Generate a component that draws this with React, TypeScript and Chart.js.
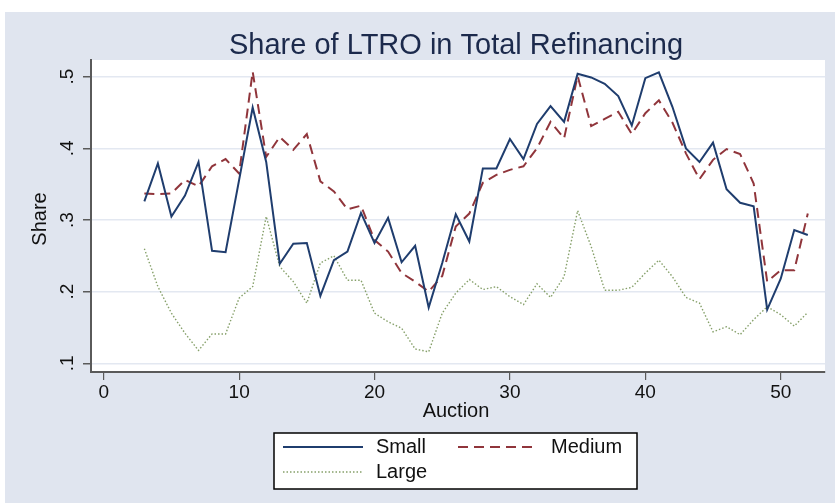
import { useEffect, useRef } from "react";
import { Chart, registerables } from "chart.js";

Chart.register(...registerables);

const chartTitle = "Share of LTRO in Total Refinancing";
const xTitle = "Auction";
const yTitle = "Share";

const auctions = [
  3, 4, 5, 6, 7, 8, 9, 10, 11, 12, 13, 14, 15, 16, 17, 18, 19, 20, 21, 22, 23, 24, 25, 26, 27,
  28, 29, 30, 31, 32, 33, 34, 35, 36, 37, 38, 39, 40, 41, 42, 43, 44, 45, 46, 47, 48, 49, 50, 51, 52,
];

const small = [
  0.326, 0.379, 0.305, 0.334, 0.381, 0.257, 0.255, 0.356, 0.457, 0.381, 0.239, 0.267, 0.268, 0.194,
  0.244, 0.256, 0.31, 0.268, 0.303, 0.241, 0.264, 0.178, 0.24, 0.308, 0.27, 0.372, 0.372, 0.413,
  0.385, 0.434, 0.459, 0.437, 0.504, 0.499, 0.49, 0.473, 0.432, 0.498, 0.506, 0.458, 0.4, 0.381,
  0.408, 0.343, 0.324, 0.319, 0.175, 0.218, 0.286, 0.279,
];

const medium = [
  0.337, 0.336, 0.337, 0.356, 0.347, 0.375, 0.385, 0.365, 0.507, 0.388, 0.416, 0.398, 0.42, 0.354,
  0.34, 0.315, 0.32, 0.272, 0.256, 0.226, 0.214, 0.2, 0.222, 0.291, 0.309, 0.352, 0.363, 0.37,
  0.375, 0.4, 0.437, 0.414, 0.501, 0.431, 0.441, 0.451, 0.42, 0.449, 0.467, 0.436, 0.393, 0.357,
  0.384, 0.399, 0.392, 0.351, 0.214, 0.23, 0.23, 0.309,
];

const large = [
  0.26, 0.207, 0.17, 0.142, 0.118, 0.141, 0.141, 0.191, 0.207, 0.305, 0.235, 0.214, 0.184, 0.24,
  0.25, 0.216, 0.216, 0.17, 0.158, 0.149, 0.12, 0.116, 0.17, 0.198, 0.217, 0.203, 0.207, 0.193,
  0.182, 0.211, 0.192, 0.221, 0.313, 0.263, 0.202, 0.202, 0.206, 0.226, 0.244, 0.221, 0.192, 0.184,
  0.144, 0.151, 0.14, 0.161, 0.179, 0.168, 0.152, 0.171,
];

const seriesNames = ["Small", "Medium", "Large"];
const xTicks = [0, 10, 20, 30, 40, 50];
const yTicks = [0.1, 0.2, 0.3, 0.4, 0.5];
const yTickLabels = [".1", ".2", ".3", ".4", ".5"];

const FONT = "'Liberation Sans', Arial, sans-serif";
const BG = "#e0e5ef";
const NAVY = "#1f3d6e";
const MAROON = "#90353b";
const GREEN = "#86a06a";
const AXIS = "#5a5a5a";

export default function App() {
  const ref = useRef<HTMLCanvasElement | null>(null);

  useEffect(() => {
    const canvas = ref.current;
    if (!canvas) return;

    const decor = {
      id: "decor",
      beforeDraw(chart: any) {
        const ctx = chart.ctx as CanvasRenderingContext2D;
        const { left, top, right, bottom } = chart.chartArea;
        ctx.save();
        ctx.fillStyle = "#ffffff";
        ctx.fillRect(0, 0, chart.width, chart.height);
        ctx.fillStyle = BG;
        ctx.fillRect(5, 12, chart.width - 5, chart.height - 12);
        ctx.fillStyle = "#ffffff";
        ctx.fillRect(left, top, right - left, bottom - top);
        ctx.restore();
      },
      afterDraw(chart: any) {
        const ctx = chart.ctx as CanvasRenderingContext2D;
        const { left, right } = chart.chartArea;
        const yScale = chart.scales.y;
        ctx.save();

        // title
        ctx.fillStyle = "#1c2a4c";
        ctx.font = `29px ${FONT}`;
        ctx.textAlign = "center";
        ctx.textBaseline = "middle";
        ctx.fillText(chartTitle, 456, 46);

        // x axis title
        ctx.fillStyle = "#111";
        ctx.font = `20px ${FONT}`;
        ctx.fillText(xTitle, (left + right) / 2 - 2, 411);

        // y axis title
        ctx.save();
        ctx.translate(40, 219);
        ctx.rotate(-Math.PI / 2);
        ctx.fillText(yTitle, 0, 0);
        ctx.restore();

        // y tick labels, rotated
        ctx.font = `19px ${FONT}`;
        yTicks.forEach((v, i) => {
          const py = yScale.getPixelForValue(v);
          ctx.save();
          ctx.translate(68, py);
          ctx.rotate(-Math.PI / 2);
          ctx.fillText(yTickLabels[i], 0, 0);
          ctx.restore();
        });

        // legend
        const bx = 274, by = 433, bw = 363, bh = 56;
        ctx.fillStyle = "#ffffff";
        ctx.fillRect(bx, by, bw, bh);
        ctx.strokeStyle = "#000";
        ctx.lineWidth = 1.5;
        ctx.strokeRect(bx, by, bw, bh);

        const items = [
          { x: 283, y: 447 },
          { x: 458, y: 447 },
          { x: 283, y: 472 },
        ];
        chart.data.datasets.forEach((ds: any, i: number) => {
          const it = items[i];
          ctx.save();
          ctx.strokeStyle = ds.borderColor;
          ctx.lineWidth = ds.borderWidth;
          ctx.setLineDash(ds.borderDash || []);
          ctx.beginPath();
          ctx.moveTo(it.x, it.y);
          ctx.lineTo(it.x + 80, it.y);
          ctx.stroke();
          ctx.restore();
          ctx.fillStyle = "#111";
          ctx.font = `20px ${FONT}`;
          ctx.textAlign = "left";
          ctx.textBaseline = "middle";
          ctx.fillText(ds.label, it.x + 93, it.y);
        });

        ctx.restore();
      },
    };

    const mk = (vals: number[]) => auctions.map((a, i) => ({ x: a, y: vals[i] }));

    const chart = new Chart(canvas, {
      type: "line",
      data: {
        datasets: [
          {
            label: seriesNames[0],
            data: mk(small),
            borderColor: NAVY,
            borderWidth: 2,
            pointRadius: 0,
            tension: 0,
            fill: false,
          },
          {
            label: seriesNames[1],
            data: mk(medium),
            borderColor: MAROON,
            borderWidth: 2,
            borderDash: [10, 6],
            pointRadius: 0,
            tension: 0,
            fill: false,
          },
          {
            label: seriesNames[2],
            data: mk(large),
            borderColor: GREEN,
            borderWidth: 1.4,
            borderDash: [1.5, 2],
            pointRadius: 0,
            tension: 0,
            fill: false,
          },
        ],
      },
      options: {
        responsive: false,
        animation: false,
        devicePixelRatio: 1,
        layout: { padding: { top: 60, right: 10, left: 0, bottom: 0 } },
        plugins: {
          legend: { display: false },
          title: { display: false },
          tooltip: { enabled: false },
        },
        scales: {
          x: {
            type: "linear",
            min: -0.94,
            max: 53.27,
            afterBuildTicks: (s: any) => {
              s.ticks = xTicks.map((v) => ({ value: v }));
            },
            afterFit: (s: any) => {
              s.height = 131;
            },
            grid: {
              drawOnChartArea: false,
              drawTicks: true,
              tickLength: 8,
              tickColor: AXIS,
              lineWidth: 1.2,
            },
            border: { display: true, color: AXIS, width: 2 },
            ticks: {
              color: "#111",
              font: { family: FONT, size: 19 },
              padding: 1,
              maxRotation: 0,
              minRotation: 0,
              autoSkip: false,
              callback: (v: any) => String(v),
            },
          },
          y: {
            type: "linear",
            min: 0.0879,
            max: 0.5233,
            afterBuildTicks: (s: any) => {
              s.ticks = yTicks.map((v) => ({ value: v }));
            },
            afterFit: (s: any) => {
              s.width = 91;
            },
            grid: {
              drawOnChartArea: true,
              drawTicks: true,
              tickLength: 8,
              color: "#e3e8f1",
              tickColor: AXIS,
              lineWidth: 1.5,
            },
            border: { display: true, color: AXIS, width: 2 },
            ticks: { display: false },
          },
        },
      },
      plugins: [decor],
    });

    return () => chart.destroy();
  }, []);

  return (
    <div style={{ position: "absolute", left: 0, top: 0, width: 835, height: 503 }}>
      <canvas ref={ref} width={835} height={503} style={{ display: "block", width: 835, height: 503 }} />
    </div>
  );
}
